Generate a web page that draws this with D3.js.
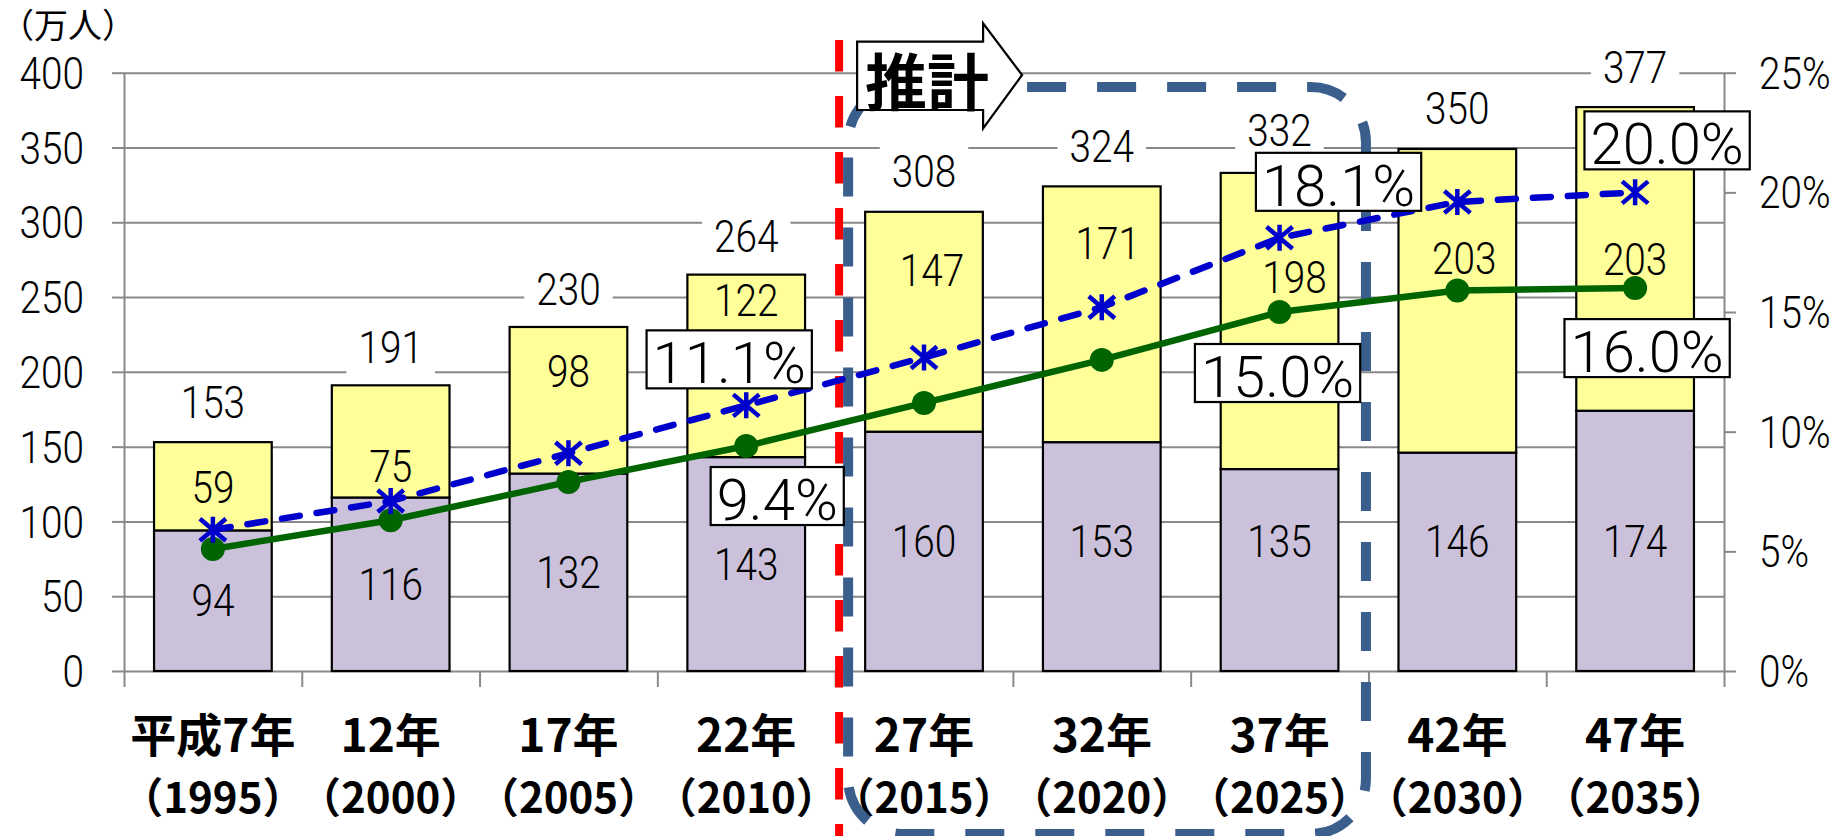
<!DOCTYPE html>
<html>
<head>
<meta charset="utf-8">
<script src="https://cdn.jsdelivr.net/npm/d3@7"></script>
<style>
  html, body { margin: 0; padding: 0; background: #fff; }
  svg { display: block; }
</style>
</head>
<body>
<svg id="chart" width="1845" height="836"></svg>
<script>
// ---- data ----
const categories = ["平成7年", "12年", "17年", "22年", "27年", "32年", "37年", "42年", "47年"];
const yearLabels = ["（1995）", "（2000）", "（2005）", "（2010）", "（2015）", "（2020）", "（2025）", "（2030）", "（2035）"];
const lowerValues = [94, 116, 132, 143, 160, 153, 135, 146, 174];   // 万人 (purple)
const upperValues = [59, 75, 98, 122, 147, 171, 198, 203, 203];     // 万人 (yellow)
const totals = [153, 191, 230, 264, 308, 324, 332, 350, 377];       // 万人
const greenRates = [5.1, 6.3, 7.9, 9.4, 11.2, 13.0, 15.0, 15.9, 16.0]; // %
const blueRates = [5.9, 7.1, 9.1, 11.1, 13.1, 15.2, 18.1, 19.6, 20.0]; // %
const leftTicks = [0, 50, 100, 150, 200, 250, 300, 350, 400];
const rightTicks = [0, 5, 10, 15, 20, 25];
const projectionStart = 4;   // first projected period (平成27年)
const projectionEnd = 7;     // boundary closing the dashed frame

// ---- label placement (axis units / px offsets) ----
const totalLift = [40, 38, 38, 40, 39, 40, 44, 39, 40];
const upperLabelLevels = [123, 137, 200, 248, 268, 286, 263, 276, 275];
const upperLabelShift = [0, 0, 0, 0, 8, 6, 15, 7, 0];
const projLowerLevel = 86.5;
const callouts = [
  { series: "blue",  i: 3, dx: -17, dy: -46 },
  { series: "green", i: 3, dx: 31,  dy: 50 },
  { series: "blue",  i: 6, dx: 59,  dy: -56 },
  { series: "green", i: 6, dx: -2,  dy: 61 },
  { series: "blue",  i: 8, dx: 32,  dy: -52 },
  { series: "green", i: 8, dx: 12,  dy: 60 }
];

// ---- styles ----
const NUM = "Roboto, 'Liberation Sans', Arial, sans-serif";
const JP = "'Noto Sans CJK JP', 'Noto Sans CJK SC', sans-serif";
const GRID = "#898989";
const YELLOW = "#FFFF99";
const LAVENDER = "#CBC1DA";
const GREEN = "#006400";
const BLUE = "#0000CC";
const FRAME = "#3A5F8C";

const svg = d3.select("#chart");
const plot = { left: 124, right: 1724, top: 72.7, bottom: 671 };

const x = d3.scaleBand()
  .domain(d3.range(categories.length))
  .range([plot.left, plot.right])
  .paddingInner(0.338)
  .paddingOuter(0.169);
const edge = d3.scaleLinear().domain([0, categories.length]).range([plot.left, plot.right]);
const y = d3.scaleLinear().domain([0, 400]).range([plot.bottom, plot.top]);
const yR = d3.scaleLinear().domain([0, 25]).range([plot.bottom, plot.top]);
const cx = i => x(i) + x.bandwidth() / 2;

function num(g, px, yc, str, size, sx, anchor) {
  return g.append("text")
    .attr("transform", `translate(${px},${yc + 0.355 * size}) scale(${sx},1)`)
    .attr("text-anchor", anchor || "middle")
    .attr("font-family", NUM)
    .attr("font-weight", 300)
    .attr("font-size", size)
    .attr("fill", "#000")
    .text(str);
}

// ---- gridlines ----
svg.append("g")
  .attr("transform", `translate(${plot.left},0)`)
  .call(d3.axisLeft(y).tickValues(leftTicks.filter(d => d > 0))
    .tickSize(-(plot.right - plot.left)).tickFormat(""))
  .call(g => g.select(".domain").remove())
  .call(g => g.selectAll("line").attr("stroke", GRID).attr("stroke-width", 2));

// ---- total labels (white plates over the gridlines) ----
const totalG = svg.append("g");
totals.forEach((t, i) => {
  const yc = y(t) - totalLift[i];
  const plate = totalG.append("rect").attr("fill", "#fff");
  const tx = num(totalG, cx(i), yc, String(t), 44, 0.88);
  const w = tx.node().getComputedTextLength() * 0.88 + 24;
  plate.attr("x", cx(i) - w / 2).attr("y", yc - 28).attr("width", w).attr("height", 56);
});

// ---- axes ----
const gL = svg.append("g")
  .attr("transform", `translate(${plot.left},0)`)
  .call(d3.axisLeft(y).tickValues(leftTicks).tickSize(12).tickSizeOuter(0));
const gR = svg.append("g")
  .attr("transform", `translate(${plot.right},0)`)
  .call(d3.axisRight(yR).tickValues(rightTicks).tickSize(12).tickSizeOuter(0).tickFormat(d => d + "%"));
const gB = svg.append("g")
  .attr("transform", `translate(0,${plot.bottom})`)
  .call(d3.axisBottom(edge).tickValues(d3.range(categories.length + 1))
    .tickSize(16).tickSizeOuter(0).tickFormat(""));

[gL, gR, gB].forEach(g => {
  g.select(".domain").attr("stroke", GRID).attr("stroke-width", 2);
  g.selectAll(".tick line").attr("stroke", GRID).attr("stroke-width", 2);
  g.attr("font-family", NUM).attr("font-size", 44);
});
gL.selectAll(".tick text")
  .attr("x", null).attr("dy", null)
  .attr("font-weight", 300).attr("fill", "#000")
  .attr("transform", `translate(${84 - plot.left},${0.355 * 44}) scale(0.88,1)`);
gR.selectAll(".tick text")
  .attr("x", null).attr("dy", null)
  .attr("font-weight", 300).attr("fill", "#000")
  .attr("transform", `translate(${1759 - plot.right},${0.355 * 44}) scale(0.88,1)`);

// unit label
svg.append("text")
  .attr("x", 0).attr("y", 38)
  .attr("text-anchor", "start")
  .attr("font-family", JP).attr("font-size", 34)
  .attr("fill", "#000")
  .text("（万人）");

// ---- stacked bars ----
const barG = svg.append("g").attr("stroke", "#000").attr("stroke-width", 2.2);
barG.selectAll("rect.lower")
  .data(lowerValues)
  .join("rect")
  .attr("class", "lower")
  .attr("x", (d, i) => x(i))
  .attr("width", x.bandwidth())
  .attr("y", d => y(d))
  .attr("height", d => y(0) - y(d))
  .attr("fill", LAVENDER);
barG.selectAll("rect.upper")
  .data(upperValues)
  .join("rect")
  .attr("class", "upper")
  .attr("x", (d, i) => x(i))
  .attr("width", x.bandwidth())
  .attr("y", (d, i) => y(lowerValues[i] + d))
  .attr("height", (d, i) => y(lowerValues[i]) - y(lowerValues[i] + d))
  .attr("fill", YELLOW);

// segment value labels
const segG = svg.append("g");
lowerValues.forEach((v, i) => {
  const level = i < projectionStart ? v / 2 : projLowerLevel;
  num(segG, cx(i), y(level), String(v), 44, 0.88);
});
upperValues.forEach((v, i) => {
  num(segG, cx(i) + upperLabelShift[i], y(upperLabelLevels[i]), String(v), 44, 0.88);
});

// ---- category labels ----
const catG = svg.append("g")
  .attr("font-family", JP).attr("font-weight", 700)
  .attr("text-anchor", "middle").attr("fill", "#000");
categories.forEach((c, i) => {
  catG.append("text").attr("x", cx(i)).attr("y", 752).attr("font-size", 46).text(c);
  catG.append("text").attr("x", cx(i)).attr("y", 813).attr("font-size", 42).text(yearLabels[i]);
});

// ---- projection markers ----
const splitX = edge(projectionStart);
svg.append("line")
  .attr("x1", splitX + 4).attr("x2", splitX + 4)
  .attr("y1", 40).attr("y2", 836)
  .attr("stroke", "#FF0000").attr("stroke-width", 8)
  .attr("stroke-dasharray", "31.5,24.5");

const frameLeft = splitX + 13;
const frameRight = edge(projectionEnd) - 2.5;
svg.append("rect")
  .attr("x", frameLeft).attr("y", 87)
  .attr("width", frameRight - frameLeft).attr("height", 747)
  .attr("rx", 55).attr("ry", 55)
  .attr("fill", "none")
  .attr("stroke", FRAME).attr("stroke-width", 10)
  .attr("stroke-dasharray", "39,31").attr("stroke-dashoffset", 16);

// ---- rate lines ----
const rateLine = d3.line().x((d, i) => cx(i)).y(d => yR(d));
svg.append("path")
  .datum(greenRates)
  .attr("d", rateLine)
  .attr("fill", "none").attr("stroke", GREEN).attr("stroke-width", 6.5)
  .attr("stroke-linejoin", "round");
svg.append("g").selectAll("circle")
  .data(greenRates)
  .join("circle")
  .attr("cx", (d, i) => cx(i)).attr("cy", d => yR(d))
  .attr("r", 12).attr("fill", GREEN);

svg.append("path")
  .datum(blueRates)
  .attr("d", rateLine)
  .attr("fill", "none").attr("stroke", BLUE).attr("stroke-width", 6.5)
  .attr("stroke-linecap", "round")
  .attr("stroke-dasharray", "18,17");
const star = "M0,-13V13M-13,-11L13,11M-13,11L13,-11";
svg.append("g").selectAll("path")
  .data(blueRates)
  .join("path")
  .attr("transform", (d, i) => `translate(${cx(i)},${yR(d)})`)
  .attr("d", star)
  .attr("fill", "none").attr("stroke", BLUE).attr("stroke-width", 4.5);

// ---- rate callouts ----
const fmt = d3.format(".1f");
const callG = svg.append("g");
callouts.forEach(c => {
  const v = (c.series === "blue" ? blueRates : greenRates)[c.i];
  const bx = cx(c.i) + c.dx;
  const by = yR(v) + c.dy;
  const box = callG.append("rect")
    .attr("fill", "#fff").attr("stroke", "#000").attr("stroke-width", 2.2);
  const t = callG.append("text")
    .attr("x", bx).attr("y", by + 24)
    .attr("text-anchor", "middle")
    .attr("font-family", NUM).attr("font-weight", 300).attr("font-size", 58)
    .attr("fill", "#000")
    .text(fmt(v) + "%");
  const w = t.node().getComputedTextLength() + 12;
  box.attr("x", bx - w / 2).attr("y", by - 29).attr("width", w).attr("height", 58);
});

// ---- 推計 arrow ----
const ax = splitX + 22;
const arrow = d3.path();
arrow.moveTo(ax, 41.7);
arrow.lineTo(ax + 126, 41.7);
arrow.lineTo(ax + 126, 23.3);
arrow.lineTo(ax + 165, 75);
arrow.lineTo(ax + 126, 128.3);
arrow.lineTo(ax + 126, 110);
arrow.lineTo(ax, 110);
arrow.closePath();
svg.append("path")
  .attr("d", arrow.toString())
  .attr("fill", "#fff").attr("stroke", "#000").attr("stroke-width", 2.2)
  .attr("stroke-linejoin", "miter");
svg.append("text")
  .attr("x", ax + 70).attr("y", 106)
  .attr("text-anchor", "middle")
  .attr("font-family", JP).attr("font-weight", 700).attr("font-size", 62)
  .attr("fill", "#000")
  .text("推計");
</script>
</body>
</html>
